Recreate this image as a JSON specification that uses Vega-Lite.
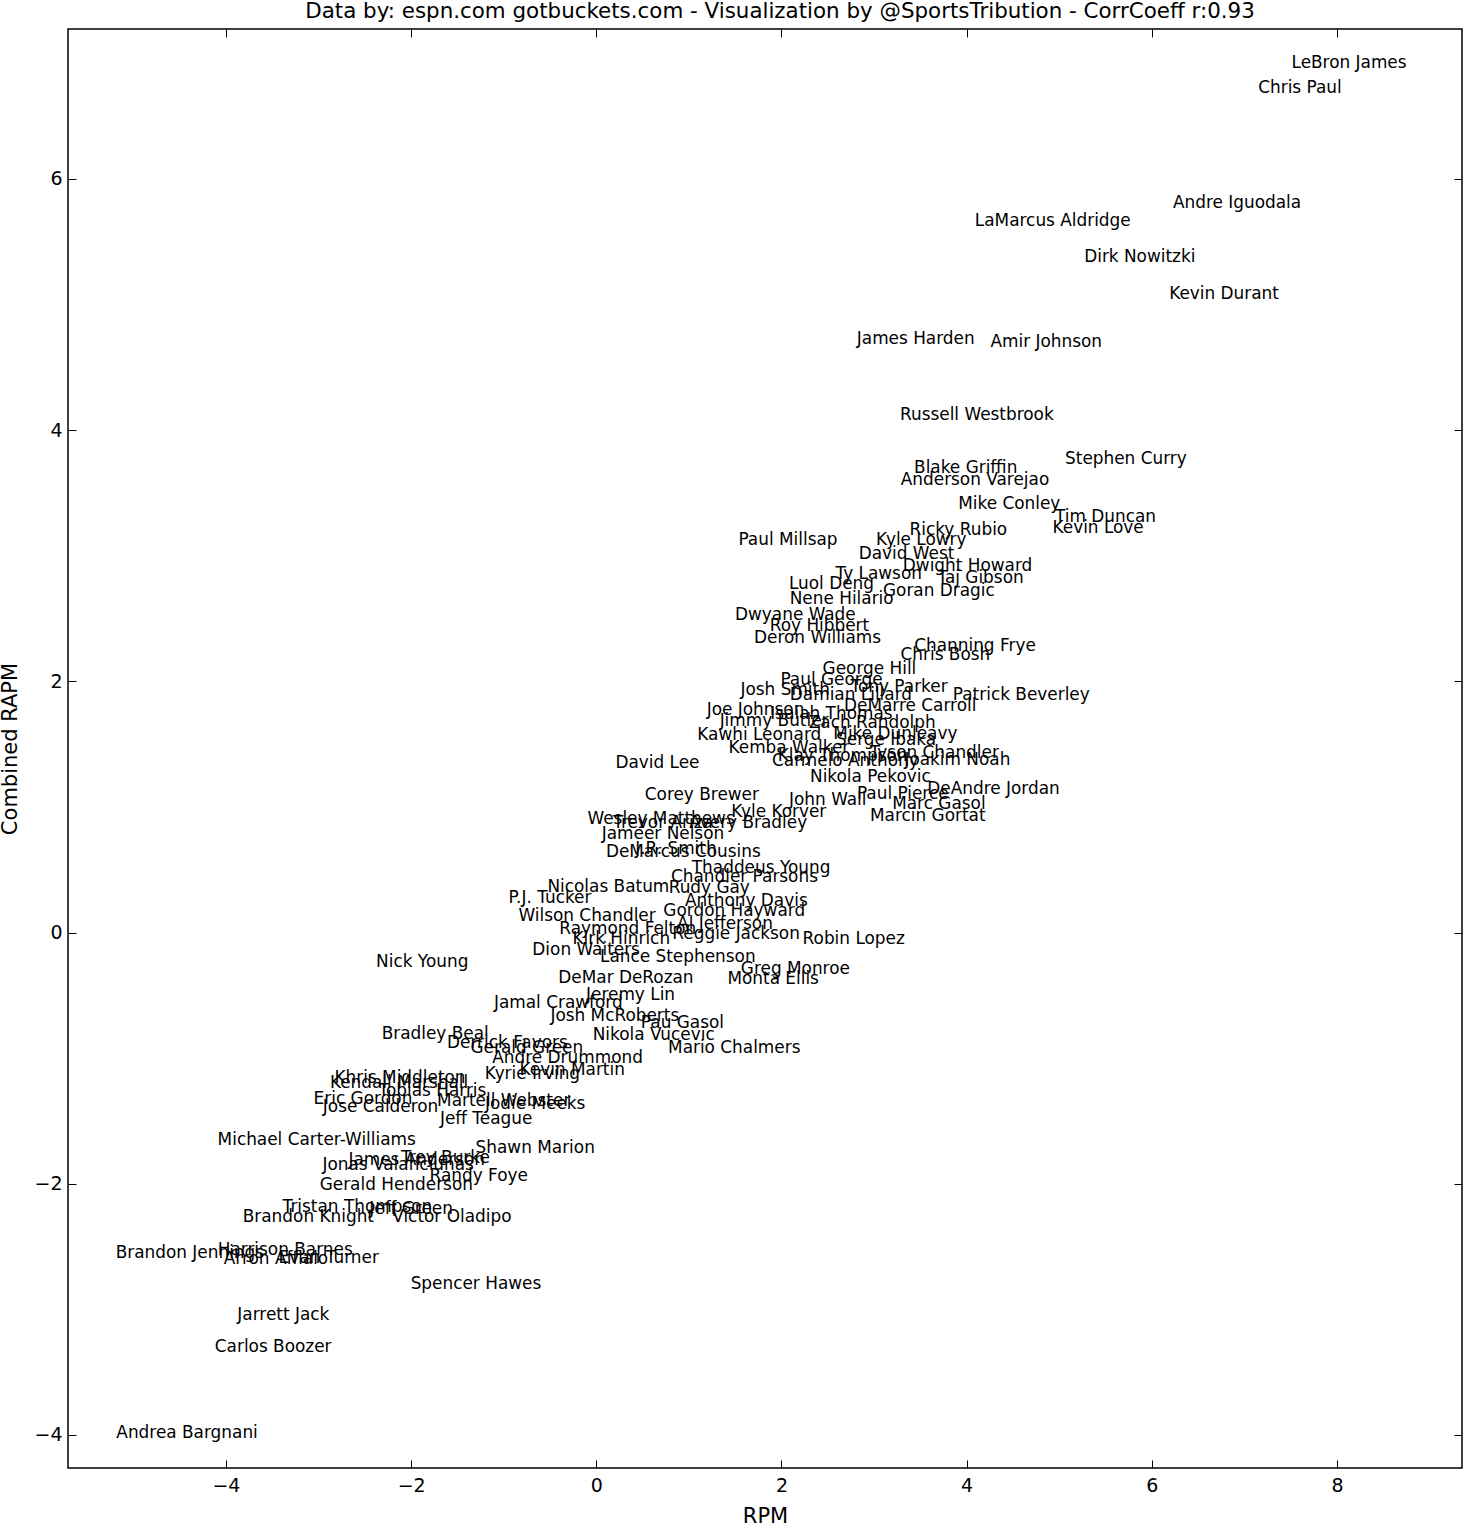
{
  "$schema": "https://vega.github.io/schema/vega-lite/v6.json",
  "autosize": {"type": "none"},
  "padding": {"left": 68, "top": 29, "right": 2, "bottom": 60},
  "width": 1394,
  "height": 1439,
  "background": "white",
  "title": {
    "text": "Data by: espn.com gotbuckets.com - Visualization by @SportsTribution - CorrCoeff r:0.93",
    "font": "DejaVu Sans",
    "fontSize": 21.4,
    "fontWeight": "normal",
    "color": "black",
    "anchor": "middle",
    "dx": 15,
    "offset": 6
  },
  "config": {
    "view": {"stroke": "black", "strokeWidth": 1.5},
    "axis": {
      "labelFont": "DejaVu Sans",
      "titleFont": "DejaVu Sans",
      "labelColor": "black",
      "titleColor": "black",
      "tickColor": "black",
      "labelFontSize": 19,
      "titleFontSize": 21,
      "titleFontWeight": "normal",
      "grid": false,
      "domain": false
    }
  },
  "data": {
    "values": [
      {"name": "LeBron James", "rpm": 8.13, "rapm": 6.93},
      {"name": "Chris Paul", "rpm": 7.60, "rapm": 6.73},
      {"name": "Andre Iguodala", "rpm": 6.92, "rapm": 5.82},
      {"name": "LaMarcus Aldridge", "rpm": 4.93, "rapm": 5.67},
      {"name": "Dirk Nowitzki", "rpm": 5.87, "rapm": 5.39},
      {"name": "Kevin Durant", "rpm": 6.78, "rapm": 5.09},
      {"name": "James Harden", "rpm": 3.45, "rapm": 4.73},
      {"name": "Amir Johnson", "rpm": 4.86, "rapm": 4.71},
      {"name": "Russell Westbrook", "rpm": 4.11, "rapm": 4.13},
      {"name": "Stephen Curry", "rpm": 5.72, "rapm": 3.78},
      {"name": "Blake Griffin", "rpm": 3.99, "rapm": 3.71},
      {"name": "Anderson Varejao", "rpm": 4.09, "rapm": 3.61},
      {"name": "Mike Conley", "rpm": 4.46, "rapm": 3.42},
      {"name": "Tim Duncan", "rpm": 5.50, "rapm": 3.32},
      {"name": "Kevin Love", "rpm": 5.42, "rapm": 3.23},
      {"name": "Ricky Rubio", "rpm": 3.91, "rapm": 3.21},
      {"name": "Paul Millsap", "rpm": 2.07, "rapm": 3.13},
      {"name": "Kyle Lowry", "rpm": 3.51, "rapm": 3.13},
      {"name": "David West", "rpm": 3.35, "rapm": 3.02},
      {"name": "Dwight Howard", "rpm": 4.01, "rapm": 2.93},
      {"name": "Ty Lawson", "rpm": 3.05, "rapm": 2.86},
      {"name": "Taj Gibson", "rpm": 4.15, "rapm": 2.83},
      {"name": "Luol Deng", "rpm": 2.54, "rapm": 2.78},
      {"name": "Goran Dragic", "rpm": 3.70, "rapm": 2.73},
      {"name": "Nene Hilario", "rpm": 2.65, "rapm": 2.66},
      {"name": "Dwyane Wade", "rpm": 2.15, "rapm": 2.54},
      {"name": "Roy Hibbert", "rpm": 2.41, "rapm": 2.45},
      {"name": "Deron Williams", "rpm": 2.39, "rapm": 2.35},
      {"name": "Channing Frye", "rpm": 4.09, "rapm": 2.29},
      {"name": "Chris Bosh", "rpm": 3.77, "rapm": 2.22},
      {"name": "George Hill", "rpm": 2.95, "rapm": 2.11},
      {"name": "Paul George", "rpm": 2.54, "rapm": 2.02},
      {"name": "Josh Smith", "rpm": 2.04, "rapm": 1.94},
      {"name": "Tony Parker", "rpm": 3.27, "rapm": 1.96},
      {"name": "Damian Lillard", "rpm": 2.75, "rapm": 1.90},
      {"name": "Patrick Beverley", "rpm": 4.59, "rapm": 1.90},
      {"name": "DeMarre Carroll", "rpm": 3.39, "rapm": 1.81},
      {"name": "Joe Johnson", "rpm": 1.72, "rapm": 1.78},
      {"name": "Isaiah Thomas", "rpm": 2.54, "rapm": 1.75},
      {"name": "Jimmy Butler", "rpm": 1.92, "rapm": 1.69},
      {"name": "Zach Randolph", "rpm": 2.98, "rapm": 1.68},
      {"name": "Kawhi Leonard", "rpm": 1.76, "rapm": 1.58},
      {"name": "Mike Dunleavy", "rpm": 3.23, "rapm": 1.59},
      {"name": "Serge Ibaka", "rpm": 3.13, "rapm": 1.54},
      {"name": "Kemba Walker", "rpm": 2.08, "rapm": 1.48},
      {"name": "Tyson Chandler", "rpm": 3.65, "rapm": 1.44},
      {"name": "Klay Thompson", "rpm": 2.66, "rapm": 1.41},
      {"name": "Carmelo Anthony", "rpm": 2.69, "rapm": 1.37},
      {"name": "Joakim Noah", "rpm": 3.90, "rapm": 1.38},
      {"name": "Nikola Pekovic", "rpm": 2.96, "rapm": 1.25},
      {"name": "DeAndre Jordan", "rpm": 4.29, "rapm": 1.15},
      {"name": "Paul Pierce", "rpm": 3.31, "rapm": 1.11},
      {"name": "John Wall", "rpm": 2.50, "rapm": 1.06},
      {"name": "Marc Gasol", "rpm": 3.70, "rapm": 1.03},
      {"name": "Kyle Korver", "rpm": 1.97, "rapm": 0.97},
      {"name": "Marcin Gortat", "rpm": 3.58, "rapm": 0.94},
      {"name": "Corey Brewer", "rpm": 1.14, "rapm": 1.10},
      {"name": "David Lee", "rpm": 0.66, "rapm": 1.36},
      {"name": "Wesley Matthews", "rpm": 0.70, "rapm": 0.91},
      {"name": "Trevor Ariza", "rpm": 0.72, "rapm": 0.88},
      {"name": "Avery Bradley", "rpm": 1.64, "rapm": 0.88},
      {"name": "Jameer Nelson", "rpm": 0.72, "rapm": 0.79},
      {"name": "J.R. Smith", "rpm": 0.86, "rapm": 0.67},
      {"name": "DeMarcus Cousins", "rpm": 0.94, "rapm": 0.65},
      {"name": "Thaddeus Young", "rpm": 1.78, "rapm": 0.52},
      {"name": "Chandler Parsons", "rpm": 1.60, "rapm": 0.45},
      {"name": "Nicolas Batum", "rpm": 0.13, "rapm": 0.37},
      {"name": "Rudy Gay", "rpm": 1.22, "rapm": 0.36},
      {"name": "P.J. Tucker", "rpm": -0.50, "rapm": 0.28},
      {"name": "Anthony Davis", "rpm": 1.62, "rapm": 0.26},
      {"name": "Wilson Chandler", "rpm": -0.10, "rapm": 0.14},
      {"name": "Gordon Hayward", "rpm": 1.49, "rapm": 0.18},
      {"name": "Raymond Felton", "rpm": 0.34, "rapm": 0.04},
      {"name": "Al Jefferson", "rpm": 1.39, "rapm": 0.08},
      {"name": "Kirk Hinrich", "rpm": 0.27, "rapm": -0.04},
      {"name": "Reggie Jackson", "rpm": 1.51, "rapm": 0.00},
      {"name": "Robin Lopez", "rpm": 2.78, "rapm": -0.04},
      {"name": "Dion Waiters", "rpm": -0.11, "rapm": -0.13},
      {"name": "Lance Stephenson", "rpm": 0.88, "rapm": -0.19},
      {"name": "Nick Young", "rpm": -1.88, "rapm": -0.23},
      {"name": "Greg Monroe", "rpm": 2.15, "rapm": -0.28},
      {"name": "DeMar DeRozan", "rpm": 0.32, "rapm": -0.35},
      {"name": "Monta Ellis", "rpm": 1.91, "rapm": -0.36},
      {"name": "Jeremy Lin", "rpm": 0.37, "rapm": -0.49},
      {"name": "Jamal Crawford", "rpm": -0.41, "rapm": -0.55},
      {"name": "Josh McRoberts", "rpm": 0.20, "rapm": -0.66},
      {"name": "Pau Gasol", "rpm": 0.93, "rapm": -0.71},
      {"name": "Nikola Vucevic", "rpm": 0.62, "rapm": -0.81},
      {"name": "Bradley Beal", "rpm": -1.74, "rapm": -0.80},
      {"name": "Derrick Favors", "rpm": -0.96, "rapm": -0.87},
      {"name": "Gerald Green", "rpm": -0.75, "rapm": -0.91},
      {"name": "Mario Chalmers", "rpm": 1.49, "rapm": -0.91},
      {"name": "Andre Drummond", "rpm": -0.31, "rapm": -0.99},
      {"name": "Kevin Martin", "rpm": -0.26, "rapm": -1.09},
      {"name": "Kyrie Irving", "rpm": -0.69, "rapm": -1.12},
      {"name": "Khris Middleton", "rpm": -2.12, "rapm": -1.15},
      {"name": "Kendall Marshall", "rpm": -2.13, "rapm": -1.19},
      {"name": "Tobias Harris", "rpm": -1.77, "rapm": -1.25},
      {"name": "Eric Gordon", "rpm": -2.52, "rapm": -1.32},
      {"name": "Martell Webster", "rpm": -1.00, "rapm": -1.33},
      {"name": "Jodie Meeks", "rpm": -0.66, "rapm": -1.36},
      {"name": "Jose Calderon", "rpm": -2.33, "rapm": -1.38},
      {"name": "Jeff Teague", "rpm": -1.19, "rapm": -1.48},
      {"name": "Michael Carter-Williams", "rpm": -3.02, "rapm": -1.64},
      {"name": "Shawn Marion", "rpm": -0.66, "rapm": -1.71},
      {"name": "Trey Burke", "rpm": -1.63, "rapm": -1.79},
      {"name": "James Anderson", "rpm": -1.94, "rapm": -1.80},
      {"name": "Jonas Valanciunas", "rpm": -2.14, "rapm": -1.84},
      {"name": "Randy Foye", "rpm": -1.27, "rapm": -1.93},
      {"name": "Gerald Henderson", "rpm": -2.16, "rapm": -2.00},
      {"name": "Tristan Thompson", "rpm": -2.58, "rapm": -2.18},
      {"name": "Jeff Green", "rpm": -2.00, "rapm": -2.19},
      {"name": "Brandon Knight", "rpm": -3.11, "rapm": -2.26},
      {"name": "Victor Oladipo", "rpm": -1.56, "rapm": -2.26},
      {"name": "Brandon Jennings", "rpm": -4.39, "rapm": -2.54},
      {"name": "Harrison Barnes", "rpm": -3.36, "rapm": -2.52},
      {"name": "Arron Afflalo", "rpm": -3.46, "rapm": -2.59},
      {"name": "Evan Turner", "rpm": -2.89, "rapm": -2.58},
      {"name": "Spencer Hawes", "rpm": -1.30, "rapm": -2.79},
      {"name": "Jarrett Jack", "rpm": -3.38, "rapm": -3.04},
      {"name": "Carlos Boozer", "rpm": -3.49, "rapm": -3.29},
      {"name": "Andrea Bargnani", "rpm": -4.42, "rapm": -3.98}
    ]
  },
  "layer": [
    {
      "mark": {"type": "text", "font": "DejaVu Sans", "fontSize": 16.9, "align": "center", "baseline": "middle", "dy": 1, "color": "black"},
      "encoding": {
        "x": {
          "field": "rpm", "type": "quantitative",
          "scale": {"domain": [-5.706, 9.35], "nice": false, "zero": false},
          "axis": {"orient": "bottom", "title": "RPM", "values": [-4, -2, 0, 2, 4, 6, 8], "offset": -8, "tickSize": 8, "tickWidth": 1, "labelPadding": 8, "titlePadding": 10}
        },
        "y": {
          "field": "rapm", "type": "quantitative",
          "scale": {"domain": [-4.263, 7.194], "nice": false, "zero": false},
          "axis": {"orient": "left", "title": "Combined RAPM", "values": [-4, -2, 0, 2, 4, 6], "offset": -8, "tickSize": 8, "tickWidth": 1, "labelPadding": 6, "titlePadding": 13}
        },
        "text": {"field": "name", "type": "nominal"}
      }
    },
    {
      "mark": {"type": "point", "opacity": 0},
      "encoding": {
        "x": {
          "field": "rpm", "type": "quantitative",
          "axis": {"orient": "top", "title": null, "labels": false, "values": [-4, -2, 0, 2, 4, 6, 8], "offset": -8, "tickSize": 8, "tickWidth": 1}
        },
        "y": {
          "field": "rapm", "type": "quantitative",
          "axis": {"orient": "right", "title": null, "labels": false, "values": [-4, -2, 0, 2, 4, 6], "offset": -8, "tickSize": 8, "tickWidth": 1}
        }
      }
    }
  ],
  "resolve": {"axis": {"x": "independent", "y": "independent"}}
}
